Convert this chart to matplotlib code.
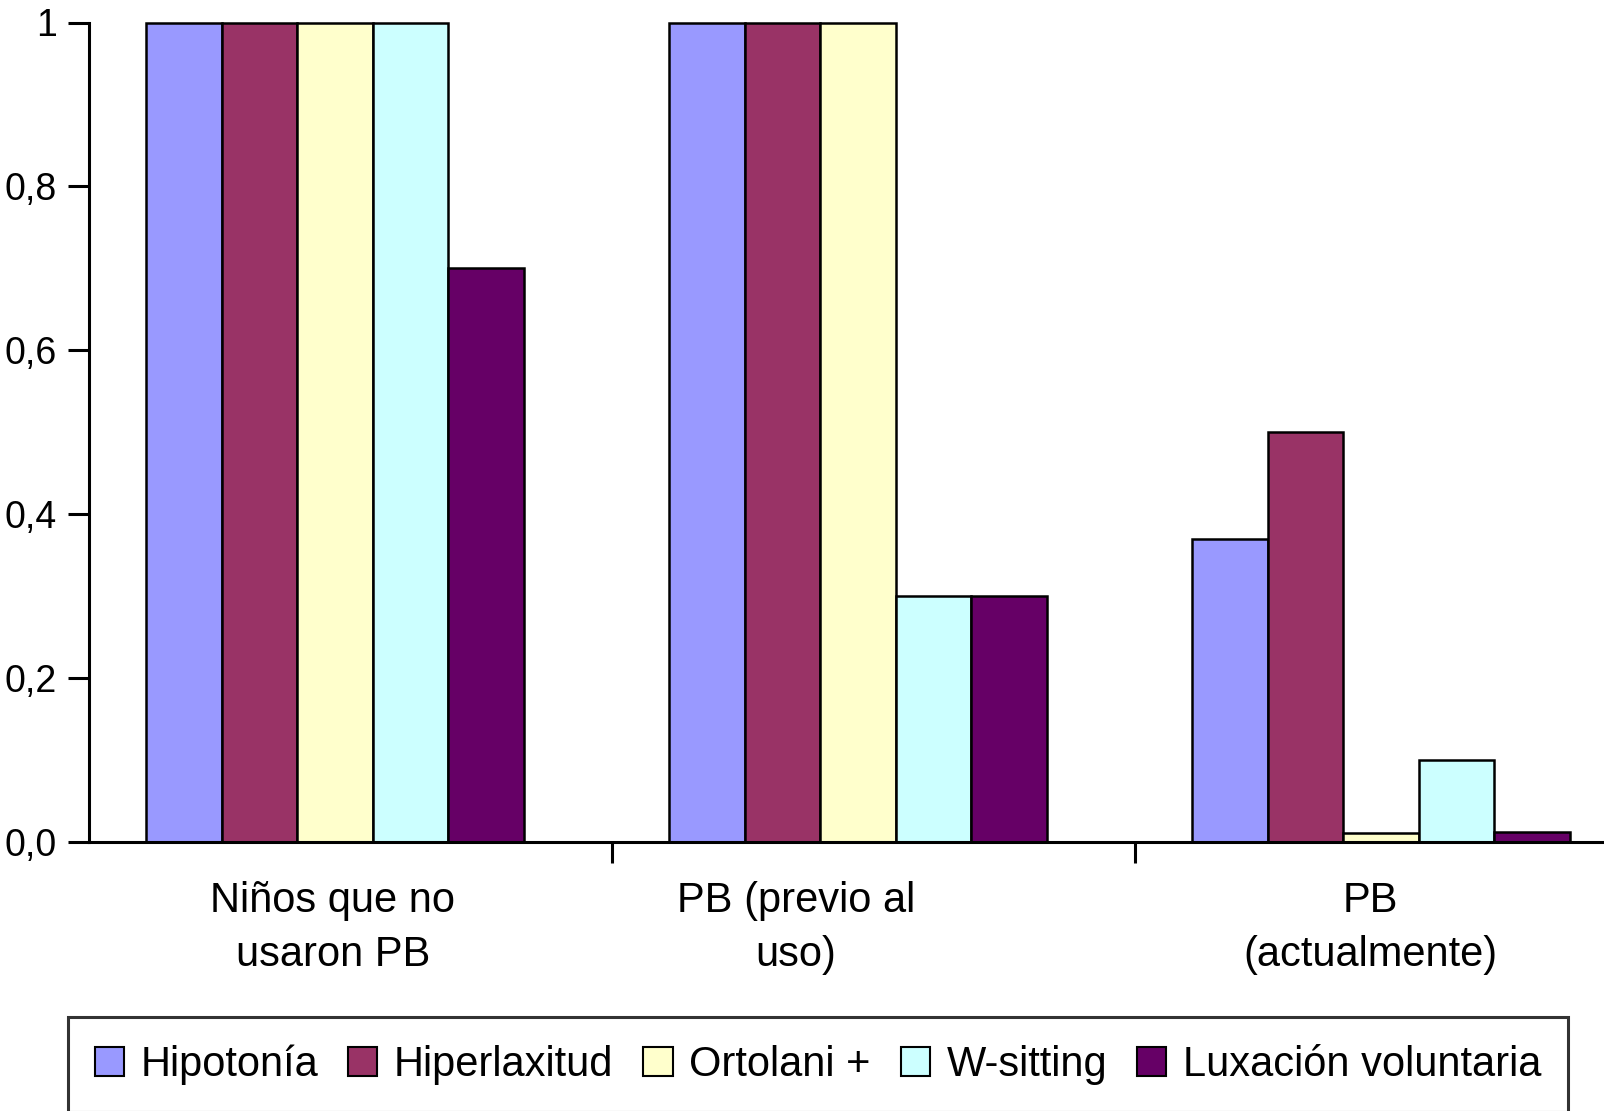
import numpy as np
import matplotlib.pyplot as plt

plt.rcParams['font.family'] = ['Liberation Sans', 'DejaVu Sans']

# data
categories = ['Niños que no\nusaron PB', 'PB (previo al\nuso)', 'PB\n(actualmente)']
series = ['Hipotonía', 'Hiperlaxitud', 'Ortolani +', 'W-sitting', 'Luxación voluntaria']
hipotonia = [1.0, 1.0, 0.37]
hiperlaxitud = [1.0, 1.0, 0.5]
ortolani = [1.0, 1.0, 0.011]
w_sitting = [1.0, 0.3, 0.1]
luxacion = [0.7, 0.3, 0.012]
colors = ['#9999FF', '#993366', '#FFFFCC', '#CCFFFF', '#660066']
yticks = [0.0, 0.2, 0.4, 0.6, 0.8, 1.0]
ytick_labels = ['0,0', '0,2', '0,4', '0,6', '0,8', '1']

values = [hipotonia, hiperlaxitud, ortolani, w_sitting, luxacion]

fig = plt.figure(figsize=(16.04, 11.11), dpi=100)
ax = fig.add_axes([89 / 1604, 1 - 842 / 1111, 1 - 89 / 1604, (842 - 22.5) / 1111])

x = np.arange(len(categories))
w = 0.1446
start = x - 0.391
for j, (name, vals) in enumerate(zip(series, values)):
    ax.bar(start + (j + 0.5) * w, vals, width=w, color=colors[j],
           edgecolor='black', linewidth=1.8, label=name, clip_on=False, zorder=3)

ax.set_xlim(-0.5, 2.397)
ax.set_ylim(0, 1)

for s in ['top', 'right']:
    ax.spines[s].set_visible(False)
for s in ['left', 'bottom']:
    ax.spines[s].set_linewidth(2.2)
    ax.spines[s].set_zorder(4)

ax.set_yticks(yticks)
ax.set_yticklabels(ytick_labels)
ax.tick_params(axis='y', direction='out', length=15, width=2.2, pad=8, labelsize=27)
ax.set_xticks([0.5, 1.5])
ax.set_xticklabels([])
ax.tick_params(axis='x', direction='out', length=15, width=2.2)

# category labels (placed like the original, slightly off-centre)
label_x = [-0.0335, 0.852, 1.951]
for lx, lab in zip(label_x, categories):
    ax.text(lx, -0.048, lab, transform=ax.get_xaxis_transform(), ha='center', va='top',
            fontsize=30, linespacing=1.45)

handles, labels = ax.get_legend_handles_labels()
leg = fig.legend(handles, labels, loc='center', ncol=5,
                 bbox_to_anchor=(818 / 1604, 1 - 1064.5 / 1111),
                 fontsize=30, frameon=True, fancybox=False, edgecolor='black',
                 handlelength=0.7, handleheight=0.7, handletextpad=0.4,
                 columnspacing=0.72, borderpad=0.65)
leg.get_frame().set_linewidth(2.2)
for p in leg.get_patches():
    p.set_linewidth(1.5)

fig.savefig('out.png', dpi=100)
